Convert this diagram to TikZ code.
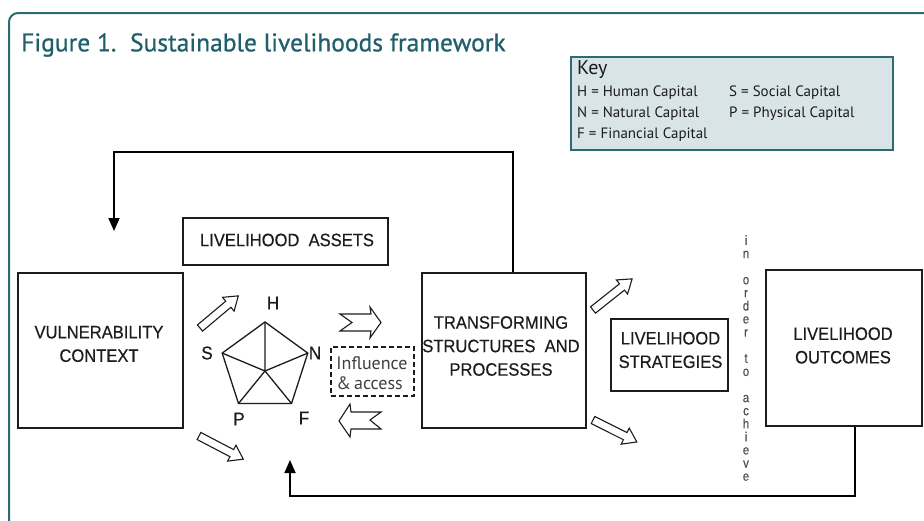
\documentclass[tikz,border=0pt]{standalone}
\usepackage{fontspec}
\setmainfont{Liberation Sans}
\newfontfamily\boxfont{Liberation Sans}[FakeStretch=0.92,FakeBold=0.4]
\newfontfamily\narrowfont{Liberation Sans}[FakeStretch=0.85,FakeBold=0.3]
\newfontfamily\humfont{PT Sans}
\newfontfamily\titlefont{PT Sans}[FakeBold=0.7]
\usetikzlibrary{arrows.meta}
\definecolor{titleteal}{HTML}{1F5F6B}
\definecolor{keyfill}{HTML}{D8E4E7}
\definecolor{keyline}{HTML}{2E6A72}
\definecolor{ink}{HTML}{1C1C1C}
\newcommand\harrow[4]{%
  \draw[hollowarr, shift={(#1,#2)}, rotate=#3]
    (0,-4) -- (#4-13,-4) -- (#4-13,-9) -- (#4,0) -- (#4-13,9) -- (#4-13,4) -- (0,4) -- cycle;}
\begin{document}
\begin{tikzpicture}[x=1pt,y=-1pt,
  boxshape/.style={draw=ink, line width=1.3pt, inner sep=0pt},
  boxtext/.style={font=\boxfont\fontsize{18}{23.5}\selectfont, align=center, text=ink, inner sep=0pt},
  lbl/.style={font=\boxfont\fontsize{18.5}{20}\selectfont, text=ink, inner sep=0pt},
  keytext/.style={font=\humfont\fontsize{15}{17}\selectfont, text=ink, anchor=west, inner sep=0pt},
  hollowarr/.style={draw=ink, line width=1.1pt, fill=white, line join=miter},
  feedback/.style={draw=black, line width=1.8pt, -{Triangle[length=13pt,width=11pt]}},
  pent/.style={draw=ink, line width=1.3pt, line join=miter}]
\useasboundingbox (0,0) rectangle (924,520);
\begin{scope}
  \clip (0,0) rectangle (924,520);
  \draw[keyline, line width=2pt, rounded corners=9pt, fill=white] (9,13) rectangle (970,570);
\end{scope}

% title
\node[font=\titlefont\fontsize{25.5}{28}\selectfont, text=titleteal, anchor=west, inner sep=0pt] (title) at (21,45) {Figure 1.\ \ Sustainable livelihoods framework};

% key
\node[draw=keyline, fill=keyfill, line width=2pt, minimum width=322, minimum height=93, inner sep=0pt] (key) at (732,103.5) {};
\node[font=\humfont\fontsize{20}{22}\selectfont, text=ink, anchor=west, inner sep=0pt] (keyT) at (577,70) {Key};
\node[keytext] (k1) at (577,93) {H = Human Capital};
\node[keytext] (k2) at (729,93) {S = Social Capital};
\node[keytext] (k3) at (577,114) {N = Natural Capital};
\node[keytext] (k4) at (729,114) {P = Physical Capital};
\node[keytext] (k5) at (577,135) {F = Financial Capital};

% main boxes
\node[boxshape, minimum width=165, minimum height=155] (vuln) at (100.5,350.5) {};
\node[boxtext] (vulnT) at (99,344) {VULNERABILITY\\CONTEXT};
\node[boxshape, minimum width=205, minimum height=47] (assets) at (285.5,241.5) {};
\node[boxtext] (assetsT) at (287,240) {LIVELIHOOD\ \ ASSETS};
\node[boxshape, minimum width=164, minimum height=155] (trans) at (504,350.5) {};
\node[boxtext] (transT) at (501,346) {TRANSFORMING\\STRUCTURES\ \ AND\\PROCESSES};
\node[boxshape, minimum width=117, minimum height=72] (strat) at (669.5,355) {};
\node[boxtext] (stratT) at (670.5,350) {LIVELIHOOD\\STRATEGIES};
\node[boxshape, minimum width=156, minimum height=156] (outc) at (844,348) {};
\node[boxtext] (outcT) at (843,345.5) {LIVELIHOOD\\OUTCOMES};

% influence & access
\node[draw=ink, dashed, dash pattern=on 5pt off 3pt, line width=1.3pt, minimum width=83, minimum height=49, inner sep=0pt] (infl) at (372.5,371.5) {};
\node[font=\humfont\fontsize{18}{20}\selectfont, text=black!75, align=left, inner sep=0pt] (inflT) at (372,373) {Influence\\\&\,access};

% pentagon
\coordinate (pc) at (265,371);
\coordinate (pH) at (265,322);
\coordinate (pN) at (307.8,353.1);
\coordinate (pF) at (291.5,403.5);
\coordinate (pP) at (238.5,403.5);
\coordinate (pS) at (222.2,353.1);
\draw[pent] (pH) -- (pN) -- (pF) -- (pP) -- (pS) -- cycle;
\draw[pent] (pc) -- (pH) (pc) -- (pN) (pc) -- (pF) (pc) -- (pP) (pc) -- (pS);
\node[lbl] (lH) at (273,303) {H};
\node[lbl] (lS) at (207,353) {S};
\node[lbl] (lN) at (315,353) {N};
\node[lbl] (lP) at (239,419) {P};
\node[lbl] (lF) at (304,418) {F};

% hollow arrows
\harrow{200}{328}{40}{50}
\harrow{199}{436}{-27.6}{50}
\harrow{593}{310}{38.5}{50}
\harrow{593}{420}{-26.6}{49}
\draw[hollowarr] (340,314) -- (371,314) -- (370,307) -- (381,322.5) -- (370,338) -- (371,331) -- (340,331) -- (352,322.5) -- cycle;
\draw[hollowarr] (339,421) -- (350,404) -- (351,412) -- (381,412) -- (370,420) -- (381,429) -- (351,429) -- (350,437) -- cycle;

% vertical text
\node[font=\narrowfont\fontsize{13.5}{13.1}\selectfont, text=black!70, align=center, inner sep=0pt] (order) at (746,358)
  {i\\n\\\mbox{}\\o\\r\\d\\e\\r\\\mbox{}\\t\\o\\\mbox{}\\a\\c\\h\\i\\e\\v\\e};

% feedback loops
\coordinate (fb1) at (513,152);
\coordinate (fb2) at (114,231);
\draw[feedback] (trans.north -| fb1) -- (fb1) -| (fb2);
\coordinate (fb3) at (855,496);
\coordinate (fb4) at (290,460);
\draw[feedback] (outc.south -| fb3) -- (fb3) -| (fb4);
\end{tikzpicture}
\end{document}
